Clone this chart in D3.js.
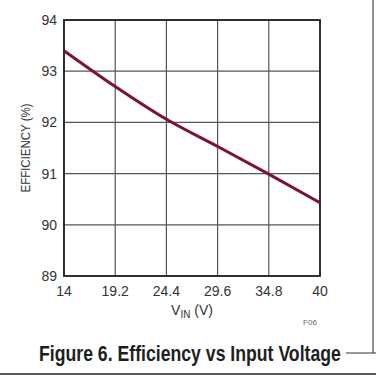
<!DOCTYPE html>
<html>
  <head>
    <script src="https://d3js.org/d3.v7.min.js"></script>
    <style>
      body { margin: 0; background: #fff; }
      text { font-family: "Liberation Sans", Arial, sans-serif; }
    </style>
  </head>
  <body>
    <svg id="chart" width="376" height="376"></svg>
    <script>
      // data
      const vin = [14, 19.2, 24.4, 29.6, 34.8, 40];
      const efficiency = [93.4, 92.7, 92.06, 91.53, 90.99, 90.43];
      const xTicks = [14, 19.2, 24.4, 29.6, 34.8, 40];
      const yTicks = [89, 90, 91, 92, 93, 94];

      const svg = d3.select("#chart");
      const margin = { left: 64, right: 56, top: 20, bottom: 100 };
      const width = +svg.attr("width");
      const height = +svg.attr("height");

      const x = d3.scaleLinear().domain([14, 40]).range([margin.left, width - margin.right]);
      const y = d3.scaleLinear().domain([89, 94]).range([height - margin.bottom, margin.top]);

      // grid
      svg.append("g")
        .selectAll("line.vgrid")
        .data(xTicks)
        .join("line")
        .attr("class", "vgrid")
        .attr("x1", d => x(d)).attr("x2", d => x(d))
        .attr("y1", y(94)).attr("y2", y(89))
        .style("stroke", "#555")
        .style("stroke-width", 1.2);

      svg.append("g")
        .selectAll("line.hgrid")
        .data(yTicks)
        .join("line")
        .attr("class", "hgrid")
        .attr("x1", x(14)).attr("x2", x(40))
        .attr("y1", d => y(d)).attr("y2", d => y(d))
        .style("stroke", "#555")
        .style("stroke-width", 1.2);

      // frame
      svg.append("rect")
        .attr("x", x(14)).attr("y", y(94))
        .attr("width", x(40) - x(14)).attr("height", y(89) - y(94))
        .style("fill", "none")
        .style("stroke", "#222")
        .style("stroke-width", 1.8);

      // tick labels
      svg.append("g")
        .selectAll("text")
        .data(yTicks)
        .join("text")
        .attr("x", x(14) - 7)
        .attr("y", d => y(d) + 5)
        .attr("text-anchor", "end")
        .style("font-size", "14px")
        .style("fill", "#333")
        .text(d => d);

      svg.append("g")
        .selectAll("text")
        .data(xTicks)
        .join("text")
        .attr("x", d => x(d))
        .attr("y", y(89) + 20)
        .attr("text-anchor", "middle")
        .style("font-size", "14px")
        .style("fill", "#333")
        .text(d => d);

      // axis titles
      const xl = svg.append("text")
        .attr("x", (x(14) + x(40)) / 2)
        .attr("y", y(89) + 39)
        .attr("text-anchor", "middle")
        .style("font-size", "14px")
        .style("fill", "#333");
      xl.append("tspan").text("V");
      xl.append("tspan").attr("dy", 3).style("font-size", "10px").text("IN");
      xl.append("tspan").attr("dy", -3).text(" (V)");

      svg.append("text")
        .attr("transform", `translate(30,${(y(89) + y(94)) / 2}) rotate(-90)`)
        .attr("text-anchor", "middle")
        .attr("textLength", 89)
        .attr("lengthAdjust", "spacingAndGlyphs")
        .style("font-size", "12.5px")
        .style("fill", "#333")
        .text("EFFICIENCY (%)");

      // curve
      const line = d3.line()
        .x((d, i) => x(vin[i]))
        .y(d => y(d))
        .curve(d3.curveMonotoneX);

      svg.append("path")
        .datum(efficiency)
        .attr("d", line)
        .style("fill", "none")
        .style("stroke", "#7a1430")
        .style("stroke-width", 3);

      svg.append("text")
        .attr("x", 310).attr("y", 325)
        .attr("text-anchor", "middle")
        .style("font-size", "8px")
        .style("fill", "#666")
        .text("F06");

      // caption, squeezed horizontally to look like a condensed face
      const cap = svg.append("text")
        .style("font-size", "22.5px")
        .style("font-weight", "bold")
        .style("fill", "#1e1e1e")
        .text("Figure 6. Efficiency vs Input Voltage");
      const k = 302 / cap.node().getComputedTextLength();
      cap.attr("transform", `translate(39,361) scale(${k},1)`);

      // page rules
      svg.append("line")
        .attr("x1", 373).attr("x2", 373).attr("y1", 0).attr("y2", 353)
        .style("stroke", "#222").style("stroke-width", 1);
      svg.append("line")
        .attr("x1", 346).attr("x2", 376).attr("y1", 353).attr("y2", 353)
        .style("stroke", "#333").style("stroke-width", 1);
      svg.append("line")
        .attr("x1", 0).attr("x2", 376).attr("y1", 374).attr("y2", 374)
        .style("stroke", "#222").style("stroke-width", 1.5);
    </script>
  </body>
</html>
